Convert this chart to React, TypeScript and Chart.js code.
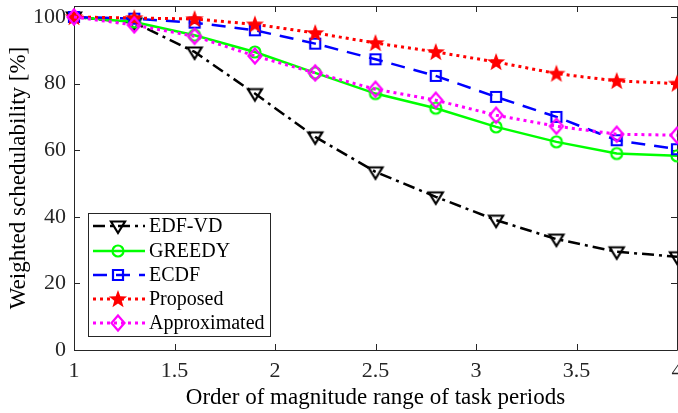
import React, { useEffect, useRef } from 'react';
import { Chart, registerables } from 'chart.js';

Chart.register(...registerables);

const xValues = [1, 1.3, 1.6, 1.9, 2.2, 2.5, 2.8, 3.1, 3.4, 3.7, 4];
const edfvd = [100, 98.3, 89.5, 77, 64, 53.5, 46, 39, 33.3, 29.5, 28];
const greedy = [100, 98.5, 94.5, 89.5, 83.2, 77, 72.6, 67, 62.5, 59, 58.3];
const ecdf = [100, 99.5, 98.3, 96, 92, 87.3, 82.3, 76, 70, 63, 60.3];
const proposed = [100, 99.7, 99.4, 97.8, 95.2, 92.2, 89.5, 86.5, 83, 80.8, 80];
const approximated = [100, 97.6, 94.2, 88.3, 83.2, 78.3, 75, 70.5, 67.2, 64.8, 64.5];
const seriesNames = ['EDF-VD', 'GREEDY', 'ECDF', 'Proposed', 'Approximated'];
const yTicks = [0, 20, 40, 60, 80, 100];
const xTicks = [1, 1.5, 2, 2.5, 3, 3.5, 4];
const xTitle = 'Order of magnitude range of task periods';
const yTitle = 'Weighted schedulability [%]';

const AXIS = '#262626';
const FONT = "'Liberation Serif', 'Times New Roman', serif";

function makeMarker(kind: string, color: string): HTMLCanvasElement {
  const S = 22;
  const c = document.createElement('canvas');
  c.width = S;
  c.height = S;
  const ctx = c.getContext('2d')!;
  const m = S / 2;
  ctx.strokeStyle = color;
  ctx.fillStyle = color;
  ctx.lineWidth = 2.2;
  ctx.lineJoin = 'miter';
  ctx.beginPath();
  if (kind === 'triDown') {
    ctx.moveTo(m - 7, m - 4.5);
    ctx.lineTo(m + 7, m - 4.5);
    ctx.lineTo(m, m + 7);
    ctx.closePath();
    ctx.stroke();
  } else if (kind === 'circle') {
    ctx.arc(m, m, 5.5, 0, Math.PI * 2);
    ctx.stroke();
  } else if (kind === 'square') {
    ctx.rect(m - 5, m - 5, 10, 10);
    ctx.stroke();
  } else if (kind === 'star') {
    const R = 9.5, r = 3.9;
    for (let i = 0; i < 10; i++) {
      const a = -Math.PI / 2 + (i * Math.PI) / 5;
      const rr = i % 2 === 0 ? R : r;
      const px = m + rr * Math.cos(a);
      const py = m + 0.5 + rr * Math.sin(a);
      if (i === 0) ctx.moveTo(px, py);
      else ctx.lineTo(px, py);
    }
    ctx.closePath();
    ctx.fill();
  } else if (kind === 'diamond') {
    ctx.moveTo(m, m - 7.5);
    ctx.lineTo(m + 6.5, m);
    ctx.lineTo(m, m + 7.5);
    ctx.lineTo(m - 6.5, m);
    ctx.closePath();
    ctx.stroke();
  }
  return c;
}

const boxPlugin = {
  id: 'matlabBox',
  beforeDatasetsDraw(chart: any) {
    const { ctx, chartArea: a, scales } = chart;
    ctx.save();
    ctx.strokeStyle = AXIS;
    ctx.lineWidth = 1;
    ctx.beginPath();
    ctx.rect(a.left + 0.5, a.top + 0.5, a.right - a.left, a.bottom - a.top);
    ctx.stroke();
    const L = 6;
    ctx.beginPath();
    for (const v of xTicks) {
      const x = Math.round(scales.x.getPixelForValue(v)) + 0.5;
      ctx.moveTo(x, a.bottom);
      ctx.lineTo(x, a.bottom - L);
      ctx.moveTo(x, a.top);
      ctx.lineTo(x, a.top + L);
    }
    for (const v of yTicks) {
      const y = Math.round(scales.y.getPixelForValue(v)) + 0.5;
      ctx.moveTo(a.left, y);
      ctx.lineTo(a.left + L, y);
      ctx.moveTo(a.right, y);
      ctx.lineTo(a.right - L, y);
    }
    ctx.stroke();
    ctx.restore();
  },
};

const legendPlugin = {
  id: 'matlabLegend',
  afterDraw(chart: any) {
    const { ctx } = chart;
    const bx = 88, by = 213, bw = 182, bh = 123;
    ctx.save();
    ctx.fillStyle = '#ffffff';
    ctx.fillRect(bx, by, bw, bh);
    ctx.strokeStyle = AXIS;
    ctx.lineWidth = 1;
    ctx.strokeRect(bx + 0.5, by + 0.5, bw, bh);
    const rows = [226, 251, 275, 299, 323];
    chart.data.datasets.forEach((ds: any, i: number) => {
      const y = rows[i];
      ctx.save();
      ctx.strokeStyle = ds.borderColor;
      ctx.lineWidth = ds.borderWidth;
      ctx.setLineDash(ds.borderDash || []);
      ctx.beginPath();
      ctx.moveTo(93, y);
      ctx.lineTo(145, y);
      ctx.stroke();
      ctx.restore();
      const img = ds.pointStyle as HTMLCanvasElement;
      ctx.drawImage(img, 118 - img.width / 2, y - img.height / 2);
      ctx.fillStyle = '#000000';
      ctx.font = `20px ${FONT}`;
      ctx.textAlign = 'left';
      ctx.textBaseline = 'middle';
      ctx.fillText(ds.label, 149, y + 1);
    });
    ctx.restore();
  },
};

function App() {
  const ref = useRef<HTMLCanvasElement | null>(null);
  useEffect(() => {
    if (!ref.current) return;
    const mk = (vals: number[]) => xValues.map((x, i) => ({ x, y: vals[i] }));
    const specs = [
      { data: edfvd, color: '#000000', dash: [12, 5, 3, 5], width: 2.5, marker: 'triDown' },
      { data: greedy, color: '#00ff00', dash: [], width: 2.5, marker: 'circle' },
      { data: ecdf, color: '#0000ff', dash: [14, 9], width: 2.5, marker: 'square' },
      { data: proposed, color: '#ff0000', dash: [3, 4], width: 3, marker: 'star' },
      { data: approximated, color: '#ff00ff', dash: [3, 4], width: 3, marker: 'diamond' },
    ];
    const chart = new Chart(ref.current, {
      type: 'line',
      data: {
        datasets: specs.map((s, i) => ({
          label: seriesNames[i],
          data: mk(s.data),
          borderColor: s.color,
          backgroundColor: s.color,
          borderWidth: s.width,
          borderDash: s.dash,
          pointStyle: makeMarker(s.marker, s.color) as any,
          pointRadius: 8,
          pointHoverRadius: 8,
          tension: 0,
          clip: false as any,
          order: -i,
        })),
      },
      options: {
        animation: false,
        responsive: false,
        maintainAspectRatio: false,
        devicePixelRatio: 1,
        layout: { autoPadding: false, padding: { top: 6, right: 1, left: 0, bottom: 0 } },
        plugins: { legend: { display: false }, tooltip: { enabled: false } },
        events: [],
        scales: {
          x: {
            type: 'linear',
            min: 1,
            max: 4,
            afterBuildTicks: (s: any) => {
              s.ticks = xTicks.map((v) => ({ value: v }));
            },
            afterFit: (s: any) => {
              s.height = 63;
              s.paddingLeft = 0;
              s.paddingRight = 0;
            },
            ticks: {
              font: { family: FONT, size: 22 },
              color: AXIS,
              padding: 8,
              maxRotation: 0,
              autoSkip: false,
              callback: (v: any) => String(v),
            },
            grid: { display: false, drawTicks: false },
            border: { display: false },
            title: {
              display: true,
              text: xTitle,
              font: { family: FONT, size: 23 },
              color: '#000000',
              padding: { top: 0, bottom: 1 },
            },
          },
          y: {
            type: 'linear',
            min: 0,
            max: 103.3,
            afterBuildTicks: (s: any) => {
              s.ticks = yTicks.map((v) => ({ value: v }));
            },
            afterFit: (s: any) => {
              s.width = 74;
              s.paddingTop = 0;
              s.paddingBottom = 0;
            },
            ticks: {
              font: { family: FONT, size: 22 },
              color: AXIS,
              padding: 8,
              callback: (v: any) => String(v),
            },
            grid: { display: false, drawTicks: false },
            border: { display: false },
            title: {
              display: true,
              text: yTitle,
              font: { family: FONT, size: 23 },
              color: '#000000',
              padding: { top: 5, bottom: 0 },
            },
          },
        },
      },
      plugins: [boxPlugin, legendPlugin],
    } as any);
    return () => chart.destroy();
  }, []);
  return (
    <div style={{ position: 'absolute', left: 0, top: 0, width: 678, height: 413, background: '#fff' }}>
      <canvas ref={ref} width={678} height={413} style={{ display: 'block' }} />
    </div>
  );
}

export default App;
